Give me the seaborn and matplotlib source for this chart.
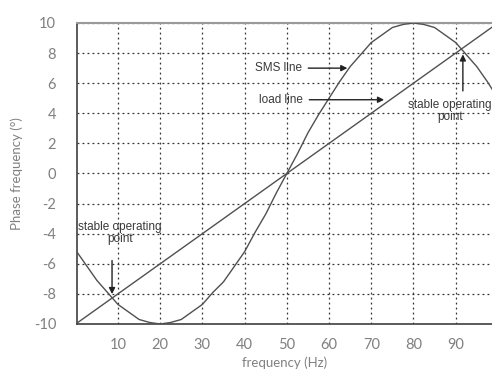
import matplotlib
matplotlib.use("Agg")
import matplotlib.pyplot as plt
import seaborn as sns
import pandas as pd

# values
sms_freq = [0, 2.5, 5, 7.5, 10, 12.5, 15, 17.5, 20, 22.5, 25, 27.5, 30, 32.5,
            35, 37.5, 40, 42.5, 45, 47.5, 50, 52.5, 55, 57.5, 60, 62.5, 65,
            67.5, 70, 72.5, 75, 77.5, 80, 82.5, 85, 87.5, 90, 92.5, 95, 97.5, 100]
sms_phase = [-5.1, -6.1, -7.1, -7.9, -8.7, -9.2, -9.7, -9.9, -10.0, -9.9, -9.7,
             -9.2, -8.7, -7.9, -7.2, -6.2, -5.2, -3.9, -2.7, -1.3, 0.0, 1.3,
             2.7, 3.9, 5.0, 6.1, 7.1, 7.9, 8.7, 9.2, 9.7, 9.9, 10.0, 9.9, 9.7,
             9.2, 8.7, 7.9, 7.1, 6.1, 5.0]
load_freq = [0, 50, 100]
load_phase = [-10, 0, 10]
x_ticks = [10, 20, 30, 40, 50, 60, 70, 80, 90]
y_ticks = [-10, -8, -6, -4, -2, 0, 2, 4, 6, 8, 10]

df = pd.concat([
    pd.DataFrame({"freq": sms_freq, "phase": sms_phase, "line": "SMS line"}),
    pd.DataFrame({"freq": load_freq, "phase": load_phase, "line": "load line"}),
], ignore_index=True)

sns.set_style("white")
plt.rcParams["font.family"] = ["Liberation Sans", "DejaVu Sans"]
plt.rcParams["axes.unicode_minus"] = False

fig = plt.figure(figsize=(4.92, 3.69), dpi=100)
ax = fig.add_axes([0.1565, 0.122, 0.8435, 0.8157])

sns.lineplot(data=df, x="freq", y="phase", hue="line",
             palette={"SMS line": "#505050", "load line": "#505050"},
             linewidth=1.0, legend=False, ax=ax, zorder=3)

ax.set_xlim(0.3, 98.6)
ax.set_ylim(-10, 10)
ax.set_xticks(x_ticks)
ax.set_yticks(y_ticks)

ax.grid(True, color="#333333", linestyle=(0, (1.5, 2.5)), linewidth=0.9)
ax.set_axisbelow(True)

for side in ["left", "bottom"]:
    ax.spines[side].set_color("#404040")
    ax.spines[side].set_linewidth(1.2)
ax.spines["top"].set_color("#9a9a9a")
ax.spines["top"].set_linewidth(1.5)
ax.spines["right"].set_visible(False)

ax.tick_params(axis="x", direction="in", length=4, width=1.2, color="#404040",
               pad=10, labelsize=10.5, labelcolor="#808080")
ax.tick_params(axis="y", length=0, pad=15, labelsize=10.5, labelcolor="#808080")
for lab in ax.get_xticklabels() + ax.get_yticklabels():
    lab.set_family(["Lato", "DejaVu Sans"])

ax.set_xlabel("frequency (Hz)", color="#808080", fontsize=9.5, labelpad=3,
              family=["Lato", "DejaVu Sans"])
ax.set_ylabel("Phase frequency (°)", color="#808080", fontsize=9.5, labelpad=8,
              family=["Lato", "DejaVu Sans"])

arrow = dict(arrowstyle="-|>", color="#222222", lw=1.0, mutation_scale=9)
txt = dict(fontsize=8.5, color="#3a3a3a")

ax.annotate("SMS line", xy=(65, 7.0), xytext=(42.5, 7.0), va="center",
            arrowprops=arrow, **txt)
ax.annotate("load line", xy=(73.7, 4.9), xytext=(43.5, 4.9), va="center",
            arrowprops=arrow, **txt)
ax.annotate("", xy=(91.7, 8.1), xytext=(91.7, 5.3), arrowprops=arrow)
ax.text(88.7, 4.15, "stable operating\npoint", ha="center", va="center",
        linespacing=0.95, **txt)
ax.annotate("", xy=(8.6, -8.2), xytext=(8.6, -5.6), arrowprops=arrow)
ax.text(10.5, -3.95, "stable operating\npoint", ha="center", va="center",
        linespacing=0.95, **txt)

fig.savefig("out.png", dpi=100)
